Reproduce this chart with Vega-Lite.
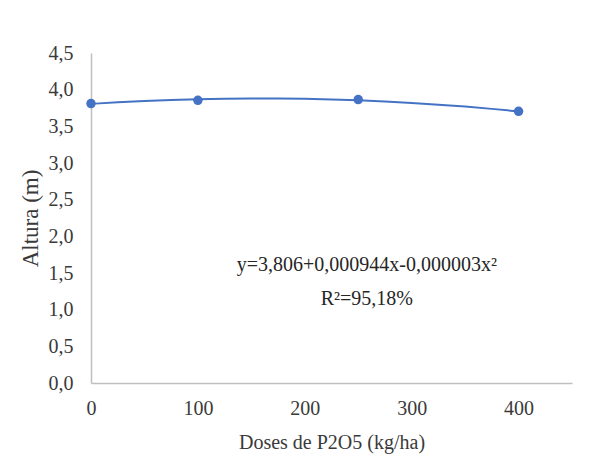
{
  "$schema": "https://vega.github.io/schema/vega-lite/v6.json",
  "width": 481,
  "height": 330,
  "autosize": "none",
  "padding": {"left": 91, "top": 53, "right": 41, "bottom": 88},
  "background": "white",
  "config": {
    "view": {"stroke": null},
    "axis": {"labelOverlap": false, "labelSeparation": 0},
    "axisY": {"labelOverlap": false},
    "axisQuantitative": {"labelOverlap": false}
  },
  "encoding": {
    "x": {"field": "dose", "type": "quantitative",
          "scale": {"domain": [0, 450], "nice": false},
          "axis": {"values": [0, 100, 200, 300, 400], "title": "Doses de P2O5 (kg/ha)",
                   "grid": false, "ticks": false, "domainColor": "#bfbfbf", "domainWidth": 1.5,
                   "labelOverlap": false, "labelBound": false, "labelFlush": false,
                   "labelFont": "Liberation Serif, Times New Roman, serif", "labelFontSize": 20, "labelColor": "#3a3a3a",
                   "labelPadding": 15, "titleFont": "Liberation Serif, Times New Roman, serif", "titleFontSize": 20,
                   "titleFontWeight": "normal", "titleColor": "#3a3a3a", "titlePadding": 14}},
    "y": {"field": "altura", "type": "quantitative",
          "scale": {"domain": [0, 4.5], "nice": false, "zero": true},
          "axis": {"tickCount": 9, "tickMinStep": 0.5, "title": "Altura (m)",
                   "labelExpr": "replace(format(datum.value, '.1f'), '.', ',')",
                   "labelOverlap": false, "labelFlush": false,
                   "grid": false, "ticks": false, "domainColor": "#bfbfbf", "domainWidth": 1.5,
                   "labelFont": "Liberation Serif, Times New Roman, serif", "labelFontSize": 20, "labelColor": "#3a3a3a",
                   "labelPadding": 18, "titleFont": "Liberation Serif, Times New Roman, serif", "titleFontSize": 23,
                   "titleFontWeight": "normal", "titleColor": "#3a3a3a", "titlePadding": 6}}
  },
  "layer": [
    {
      "data": {"values": [
        {"dose": 0, "altura": 3.806}, {"dose": 25, "altura": 3.8277}, {"dose": 50, "altura": 3.8457},
        {"dose": 75, "altura": 3.8599}, {"dose": 100, "altura": 3.8704}, {"dose": 125, "altura": 3.8771},
        {"dose": 150, "altura": 3.8801}, {"dose": 175, "altura": 3.8793}, {"dose": 200, "altura": 3.8748},
        {"dose": 225, "altura": 3.8665}, {"dose": 250, "altura": 3.8545}, {"dose": 275, "altura": 3.8387},
        {"dose": 300, "altura": 3.8192}, {"dose": 325, "altura": 3.7959}, {"dose": 350, "altura": 3.7689},
        {"dose": 375, "altura": 3.7381}, {"dose": 400, "altura": 3.7036}
      ]},
      "mark": {"type": "line", "color": "#4472C4", "strokeWidth": 2, "interpolate": "monotone"}
    },
    {
      "data": {"values": [
        {"dose": 0, "altura": 3.81}, {"dose": 100, "altura": 3.855},
        {"dose": 250, "altura": 3.865}, {"dose": 400, "altura": 3.705}
      ]},
      "mark": {"type": "point", "filled": true, "color": "#4472C4", "size": 90, "opacity": 1}
    },
    {
      "data": {"values": [
        {"dose": 258, "altura": 1.61, "label": "y=3,806+0,000944x-0,000003x²"},
        {"dose": 258, "altura": 1.15, "label": "R²=95,18%"}
      ]},
      "mark": {"type": "text", "font": "Liberation Serif, Times New Roman, serif", "fontSize": 20, "color": "#262626", "align": "center", "baseline": "middle"},
      "encoding": {"text": {"field": "label"}}
    }
  ]
}
